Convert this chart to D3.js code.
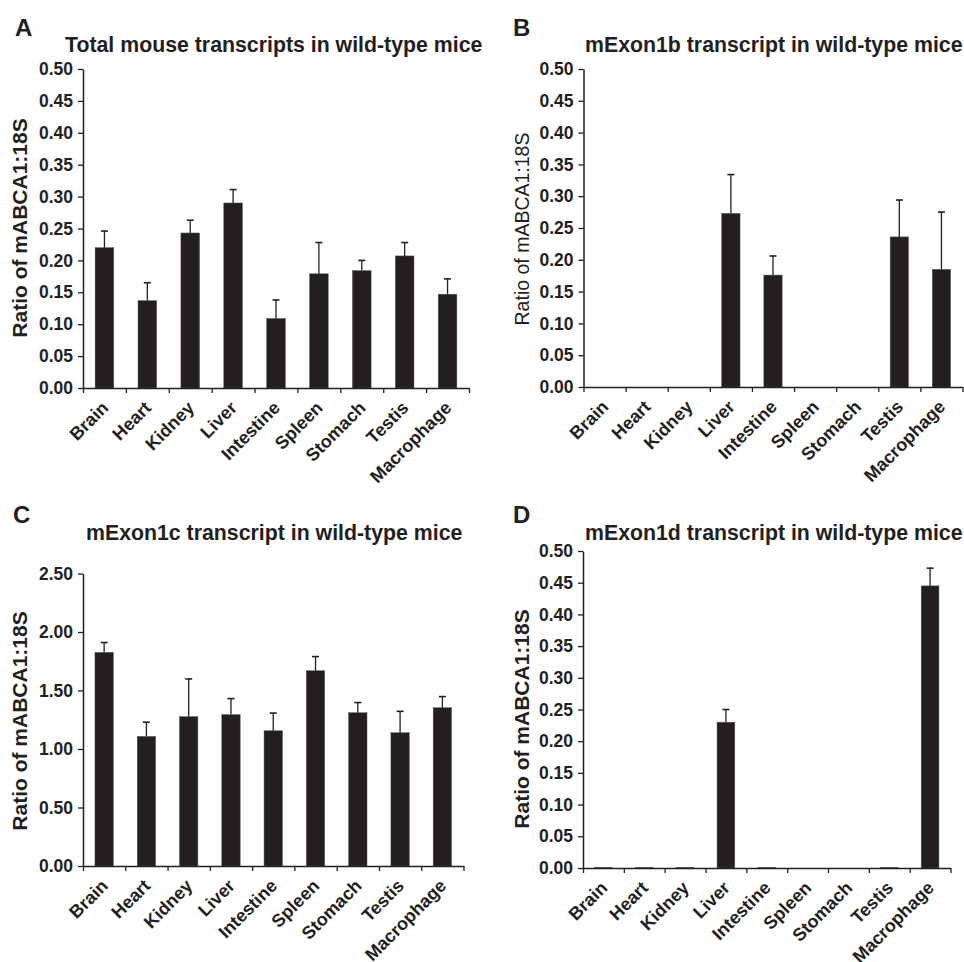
<!DOCTYPE html>
<html><head><meta charset="utf-8">
<script src="https://cdn.jsdelivr.net/npm/d3@7"></script>
<style>
body{margin:0;background:#fff}
text{font-family:"Liberation Sans",Arial,Helvetica,sans-serif;fill:#231f20}
</style>
</head><body>
<svg id="chart" width="964" height="962"></svg>
<script>
// ---- data ----
const tissues = ["Brain","Heart","Kidney","Liver","Intestine","Spleen","Stomach","Testis","Macrophage"];

const totalValues = [0.220, 0.137, 0.243, 0.290, 0.109, 0.179, 0.184, 0.207, 0.147];
const totalErrors = [0.026, 0.028, 0.020, 0.021, 0.029, 0.049, 0.016, 0.021, 0.024];

const exon1bValues = [0, 0, 0, 0.273, 0.176, 0, 0, 0.236, 0.185];
const exon1bErrors = [0, 0, 0, 0.061, 0.030, 0, 0, 0.058, 0.090];

const exon1cValues = [1.826, 1.108, 1.277, 1.294, 1.156, 1.669, 1.310, 1.139, 1.353];
const exon1cErrors = [0.084, 0.121, 0.322, 0.137, 0.151, 0.121, 0.087, 0.183, 0.095];

const exon1dValues = [0.001, 0.001, 0.001, 0.230, 0.001, 0, 0, 0.001, 0.445];
const exon1dErrors = [0, 0, 0, 0.020, 0, 0, 0, 0, 0.028];

const ticksSmall = [0, 0.05, 0.10, 0.15, 0.20, 0.25, 0.30, 0.35, 0.40, 0.45, 0.50];
const ticksLarge = [0, 0.50, 1.00, 1.50, 2.00, 2.50];

const panelLetters = ["A", "B", "C", "D"];
const panelTitles = [
  "Total mouse transcripts in wild-type mice",
  "mExon1b transcript in wild-type mice",
  "mExon1c transcript in wild-type mice",
  "mExon1d transcript in wild-type mice"
];
const yLabel = "Ratio of mABCA1:18S";

// ---- layout ----
const panels = [
  {values: totalValues, errors: totalErrors, ticks: ticksSmall, max: 0.5,
   x0: 83, x1: 469, yTop: 69, yBot: 388,
   letter: {x: 15, y: 36}, title: {x: 65, y: 52}, ylab: {x: 27, y: 228, size: 21, weight: "bold"}},
  {values: exon1bValues, errors: exon1bErrors, ticks: ticksSmall, max: 0.5,
   x0: 583.5, x1: 962.5, yTop: 69, yBot: 387,
   letter: {x: 513, y: 36}, title: {x: 585, y: 52}, ylab: {x: 529, y: 229, size: 19.5, weight: "normal"}},
  {values: exon1cValues, errors: exon1cErrors, ticks: ticksLarge, max: 2.5,
   x0: 83, x1: 463.5, yTop: 573.5, yBot: 866,
   letter: {x: 13, y: 523}, title: {x: 86, y: 540}, ylab: {x: 27, y: 721, size: 21, weight: "bold"}},
  {values: exon1dValues, errors: exon1dErrors, ticks: ticksSmall, max: 0.5,
   x0: 583, x1: 950.5, yTop: 551, yBot: 868,
   letter: {x: 513, y: 523}, title: {x: 585, y: 540}, ylab: {x: 529, y: 719, size: 21, weight: "bold"}}
];

const ink = "#231f20";
const svg = d3.select("#chart");
const fmt = d3.format(".2f");

panels.forEach((p, i) => {
  const g = svg.append("g");
  const y = d3.scaleLinear().domain([0, p.max]).range([p.yBot, p.yTop]);
  const slot = d3.scaleBand().domain(tissues).range([p.x0, p.x1]).padding(0);
  const bar = d3.scaleBand().domain(tissues).range([p.x0, p.x1]).paddingInner(0.565).paddingOuter(0.2825);
  const idx = d3.scaleLinear().domain([0, tissues.length]).range([p.x0, p.x1]);

  // panel letter & title
  g.append("text").attr("x", p.letter.x).attr("y", p.letter.y)
    .style("font-size", "24px").style("font-weight", "bold").text(panelLetters[i]);
  g.append("text").attr("x", p.title.x).attr("y", p.title.y)
    .style("font-size", "21.3px").style("font-weight", "bold").text(panelTitles[i]);

  // y label
  g.append("text").attr("transform", `translate(${p.ylab.x},${p.ylab.y}) rotate(-90)`)
    .attr("text-anchor", "middle").style("font-size", p.ylab.size + "px")
    .style("font-weight", p.ylab.weight).text(yLabel);

  // bars
  const data = tissues.map((t, k) => ({t, v: p.values[k], e: p.errors[k]}));
  g.selectAll("rect.bar").data(data.filter(d => d.v > 0)).join("rect")
    .attr("class", "bar")
    .attr("x", d => bar(d.t)).attr("width", bar.bandwidth())
    .attr("y", d => y(d.v)).attr("height", d => y(0) - y(d.v))
    .attr("fill", ink).attr("stroke", "#5a5a5a").attr("stroke-width", 0.5);

  // error bars (upper only)
  const eb = data.filter(d => d.e > 0);
  g.selectAll("line.err").data(eb).join("line")
    .attr("x1", d => slot(d.t) + slot.bandwidth() / 2).attr("x2", d => slot(d.t) + slot.bandwidth() / 2)
    .attr("y1", d => y(d.v)).attr("y2", d => y(d.v + d.e))
    .attr("stroke", ink).attr("stroke-width", 1.3);
  g.selectAll("line.cap").data(eb).join("line")
    .attr("x1", d => slot(d.t) + slot.bandwidth() / 2 - 3.5).attr("x2", d => slot(d.t) + slot.bandwidth() / 2 + 3.5)
    .attr("y1", d => y(d.v + d.e)).attr("y2", d => y(d.v + d.e))
    .attr("stroke", ink).attr("stroke-width", 1.6);

  // y axis
  const ya = g.append("g").attr("transform", `translate(${p.x0},0)`)
    .call(d3.axisLeft(y).tickValues(p.ticks).tickFormat(fmt).tickSize(5).tickSizeOuter(0).tickPadding(5));
  ya.select(".domain").attr("stroke", ink).attr("stroke-width", 1.5);
  ya.selectAll(".tick line").attr("stroke", ink).attr("stroke-width", 1.3);
  ya.selectAll(".tick text").style("font-size", "17.5px").style("font-weight", "bold")
    .style("font-family", '"Liberation Sans",Arial,sans-serif').attr("fill", ink);

  // x axis (ticks at slot boundaries)
  const xa = g.append("g").attr("transform", `translate(0,${p.yBot})`)
    .call(d3.axisBottom(idx).tickValues(d3.range(tissues.length + 1)).tickFormat("").tickSize(5).tickSizeOuter(0));
  xa.select(".domain").attr("stroke", ink).attr("stroke-width", 1.5);
  xa.selectAll(".tick line").attr("stroke", ink).attr("stroke-width", 1.3);

  // x labels
  g.selectAll("text.xl").data(tissues).join("text")
    .attr("class", "xl")
    .attr("transform", t => `translate(${slot(t) + slot.bandwidth() / 2 + 5},${p.yBot + 21}) rotate(-45)`)
    .attr("text-anchor", "end")
    .style("font-size", "18px").style("font-weight", "bold").text(t => t);
});
</script>
</body></html>
